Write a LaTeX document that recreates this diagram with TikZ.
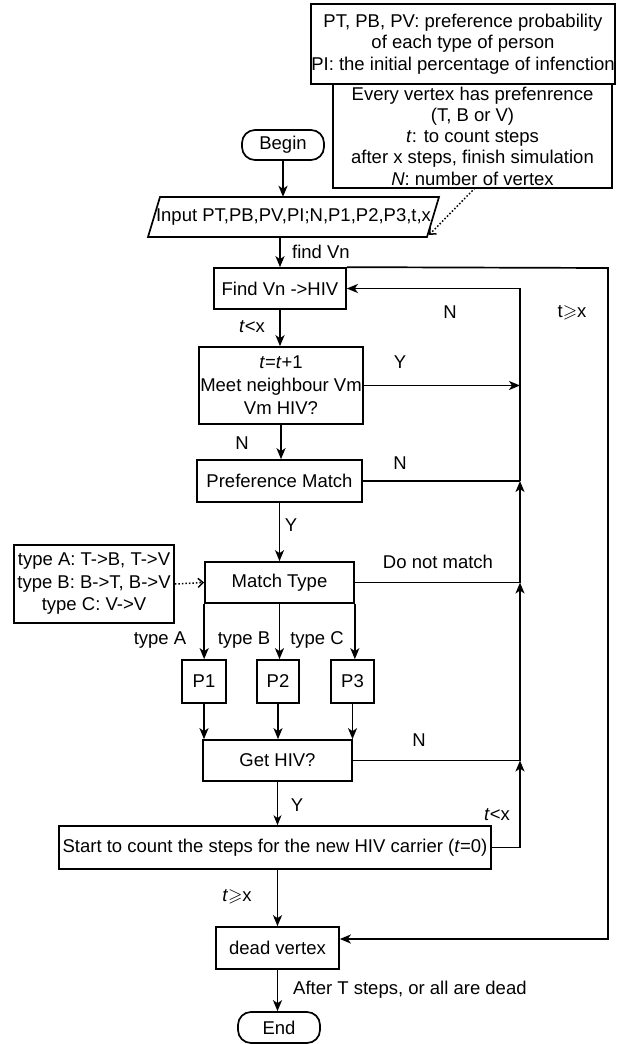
\documentclass[tikz,border=0pt]{standalone}
\usepackage{fontspec}
\setmainfont{Liberation Sans}
\usepackage{amssymb}
\usetikzlibrary{arrows.meta}
\begin{document}
\begin{tikzpicture}[x=1pt,y=-1pt,
  font=\fontsize{18.5}{21.3}\selectfont,
  box/.style={draw, line width=1.7pt, inner sep=0pt, align=center},
  term/.style={box, rounded corners=13pt},
  ln/.style={line width=1.7pt},
  arr/.style={line width=1.7pt, -{Stealth[length=11pt,width=9pt,inset=3pt]}},
  thinarr/.style={line width=0.8pt, -{Stealth[length=10pt,width=8pt,inset=3pt]}},
  dotarr/.style={line width=1.5pt, dotted, -{Straight Barb[length=5pt,width=9pt]}},
  lbl/.style={inner sep=0pt}]
\useasboundingbox (0,0) rectangle (621,1044);

% info boxes
\node[box, minimum width=300, minimum height=80] (info1) at (463,44)
  {PT, PB, PV: preference probability\\of each type of person\\PI: the initial percentage of infenction};
\node[box, minimum width=279, minimum height=104] (info2) at (472.5,136)
  {Every vertex has prefenrence\\(T, B or V)\\\textit{t}: to count steps\\after x steps, finish simulation\\\textit{N}: number of vertex};

% main column
\node[term, minimum width=82, minimum height=30] (begin) at (283,145) {Begin};
\node[inner sep=0pt, minimum width=270, minimum height=40] (input) at (293.5,217) {Input PT,PB,PV,PI;N,P1,P2,P3,t,x};
\draw[ln] (160,197) -- (439,197) -- (427,237) -- (148,237) -- cycle;
\node[box, minimum width=132, minimum height=41] (find) at (280,288.5) {Find Vn -\textgreater HIV};
\node[box, minimum width=164, minimum height=77, font=\fontsize{18.5}{23}\selectfont] (meet) at (281,385.5)
  {\textit{t}=\textit{t}+1\\Meet neighbour Vm\\Vm HIV?};
\node[box, minimum width=165, minimum height=42] (pref) at (279.5,481) {Preference Match};
\node[box, minimum width=149, minimum height=41] (match) at (279.5,582.5) {Match Type};
\node[box, minimum width=160, minimum height=78, font=\fontsize{18.5}{22.5}\selectfont] (types) at (94,584)
  {type A: T-\textgreater B, T-\textgreater V\\type B: B-\textgreater T, B-\textgreater V\\type C: V-\textgreater V};
\node[box, minimum width=44, minimum height=43] (p1) at (204,681.5) {P1};
\node[box, minimum width=42, minimum height=43] (p2) at (278,681.5) {P2};
\node[box, minimum width=43, minimum height=43] (p3) at (352.5,681.5) {P3};
\node[box, minimum width=149, minimum height=41] (get) at (277.5,760.5) {Get HIV?};
\node[box, minimum width=432, minimum height=43] (start) at (275,847.5)
  {Start to count the steps for the new HIV carrier (\textit{t}=0)};
\node[box, minimum width=123, minimum height=42] (dead) at (277.5,948) {dead vertex};
\node[term, minimum width=82, minimum height=31] (end) at (279,1027.5) {End};

% coordinates
\coordinate (rx) at (520,0);
\coordinate (loopA) at (608,268);
\coordinate (loopB) at (608,939);
\coordinate (d1) at (475,188);
\coordinate (d2) at (429,235);

% connectors
\draw[dotarr] (d1) -- (d2);
\draw[arr] (begin.south) -- (begin.south |- input.north);
\draw[arr] (find.north |- input.south) -- (find.north);
\draw[arr] (find.north east) -- (loopA) -- (loopB) -- (loopB -| dead.east);
\draw[arr] (find.south) -- (find.south |- meet.north);
\draw[arr] (meet.south) -- (meet.south |- pref.north);
\draw[arr] (pref.south) -- (pref.south |- match.north);
\draw[dotarr] (types.east) -- (match.west);
\draw[arr] (match.south west) -- (match.south west |- p1.north);
\draw[arr] (match.south) -- (match.south |- p2.north);
\draw[arr] (match.south east) -- (match.south east |- p3.north);
\draw[arr] (p1.south) -- (p1.south |- get.north);
\draw[arr] (p2.south) -- (p2.south |- get.north);
\draw[arr] (p3.south) -- (p3.south |- get.north);
\draw[thinarr] (get.south) -- (get.south |- start.north);
\draw[arr] (dead.north |- start.south) -- (dead.north);
\draw[arr] (dead.south) -- (dead.south |- end.north);

\draw[arr] (start.east) -- (start.east -| rx) -- (get.east -| rx);
\draw[arr] (get.east) -- (get.east -| rx) -- (match.east -| rx);
\draw[arr] (match.east) -- (match.east -| rx) -- (pref.east -| rx);
\draw[ln] (pref.east) -- (pref.east -| rx);
\draw[arr] (pref.east -| rx) -- (find.east -| rx) -- (find.east);
\draw[arr] (meet.east) -- (meet.east -| rx);

% labels
\node[lbl, anchor=west] (lfind) at (292,252) {find Vn};
\node[lbl] (ln1) at (450,312) {N};
\node[lbl] (lgx1) at (572,313) {t$\geqslant$x};
\node[lbl] (llx1) at (252,327) {\textit{t}\textless x};
\node[lbl] (ly1) at (400,362) {Y};
\node[lbl] (ln2) at (242,443) {N};
\node[lbl] (ln3) at (400,463) {N};
\node[lbl] (ly2) at (291,525) {Y};
\node[lbl] (ldnm) at (438,562) {Do not match};
\node[lbl] (lta) at (160,640) {type A};
\node[lbl] (ltb) at (244,640) {type B};
\node[lbl] (ltc) at (317,640) {type C};
\node[lbl] (ln4) at (419,740) {N};
\node[lbl] (ly3) at (297,805) {Y};
\node[lbl] (llx2) at (497,815) {\textit{t}\textless x};
\node[lbl] (lgx2) at (237,897) {\textit{t}$\geqslant$x};
\node[lbl, anchor=west] (lafter) at (293,990) {After T steps, or all are dead};
\end{tikzpicture}
\end{document}
